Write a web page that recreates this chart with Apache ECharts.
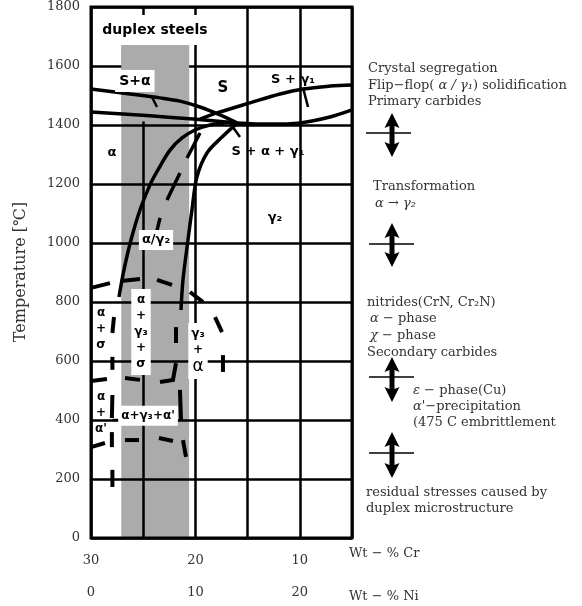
<!DOCTYPE html>
<html>
<head>
<meta charset="utf-8">
<script src="https://cdn.jsdelivr.net/npm/echarts@6/dist/echarts.min.js"></script>
<style>
  html, body { margin: 0; padding: 0; background: #fff; }
  #chart { width: 582px; height: 606px; }
</style>
</head>
<body>
<div id="chart"></div>
<script>
// Temperature axis (°C)
const tempMin = 0, tempMax = 1800, tempStep = 200;
// Composition axes (wt-%): the section runs at constant Fe, so Ni = 30 − Cr
const crMin = 5, crMax = 30, crStep = 5;
const crLabels = [30, 20, 10];
const niLabels = [0, 10, 20];

// Composition band of duplex steels: Cr limits and top temperature
const duplexBandCr = [27.1, 20.6];
const duplexBandTop = 1680;

// Phase boundaries, points as [wt-% Cr, °C]
const liquidusAlpha = [[30, 1522], [26.26, 1505], [23.39, 1492], [21.48, 1481], [19.56, 1461], [17.64, 1434], [16.02, 1407]];
const liquidusGamma = [[19.56, 1420], [17.93, 1441], [14.77, 1475], [11.90, 1505], [9.69, 1522], [7.11, 1532], [5, 1536]];
const solidusAlpha = [[30, 1444], [24.35, 1431], [20.23, 1420], [16.02, 1407]];
const solidusGamma = [[16.02, 1407], [12.85, 1403], [9.98, 1407], [7.11, 1427], [5, 1451]];
const ferriteSolvus = [[16.49, 1410], [18.60, 1400], [20.04, 1383], [21.28, 1356], [22.43, 1315], [23.58, 1248],
  [24.35, 1197], [25.31, 1112], [26.17, 1010], [26.84, 909], [27.32, 817]];
const austeniteSolvus = [[16.11, 1403], [17.45, 1359], [18.89, 1305], [19.85, 1224], [20.33, 1112], [20.80, 986],
  [21.19, 875], [21.38, 773]];

// Dashed boundaries, one polyline per dash
const gamma2Dashes = [
  [[19.56, 1373], [20.80, 1288]], [[21.48, 1237], [22.72, 1146]], [[23.39, 1085], [24.06, 986]]
];
const sigmaDashes = [
  [[30, 848], [28.18, 864]], [[27.13, 871], [25.31, 878]], [[23.68, 875], [22.24, 858]],
  [[20.52, 834], [19.27, 800]], [[18.12, 749], [17.45, 698]], [[17.36, 620], [17.36, 563]]
];
const alphaSigmaDashes = [
  [[27.8, 749], [27.95, 695]], [[27.95, 614], [27.95, 570]], [[27.95, 485], [28.0, 407]],
  [[28.0, 359], [28.0, 308]], [[27.95, 231], [27.95, 173]]
];
const gamma3Dashes = [
  [[30, 532], [28.47, 539]], [[26.74, 542], [25.31, 536]], [[23.39, 529], [22.15, 536], [21.86, 593]],
  [[21.86, 715], [21.86, 661]], [[21.48, 502], [21.38, 400]], [[21.19, 332], [20.90, 275]]
];
const alphaPrimeDashes = [
  [[30, 308], [28.66, 322]], [[26.74, 332], [25.40, 332]], [[23.49, 339], [22.15, 329]]
];
// Short leader strokes from region labels
const leaders = [
  [[24.16, 1495], [23.68, 1461]], [[9.69, 1526], [9.21, 1461]], [[16.69, 1407], [15.73, 1359]],
  [[27.95, 400], [27.22, 400]]
];

// Region labels and their anchor points [wt-% Cr, °C]
const phaseLabels = ['duplex steels', 'S+α', 'S', 'S + γ₁', 'α', 'S + α + γ₁', 'γ₂', 'α/γ₂',
  'α\n+\nγ₃\n+\nσ', 'α\n+\nσ', 'γ₃\n+\n{big|α}', 'α\n+\nα\'', 'α+γ₃+α\''];
const phaseLabelAt = [[23.87, 1722], [25.8, 1549], [17.36, 1526], [10.65, 1553], [27.99, 1305], [13.05, 1309],
  [12.38, 1085], [23.77, 1010], [25.21, 698], [29.04, 708], [19.75, 634], [29.04, 424], [24.54, 414]];

const serif = '"DejaVu Serif", "Liberation Serif", serif';
const sans = '"DejaVu Sans", "Liberation Sans", sans-serif';
const ink = '#000';
const textGrey = '#333';
const bandGrey = '#ababab';

function labelStyle(i) {
  const base = {
    show: true, position: 'inside', color: ink, opacity: 1, textBorderWidth: 0,
    fontFamily: sans, fontWeight: 'bold', fontSize: 13, lineHeight: 16, align: 'center', verticalAlign: 'middle',
    rich: { big: { fontSize: 17, fontWeight: 'normal', fontFamily: sans, color: ink, lineHeight: 18 } }
  };
  const boxed = { 0: [7, 8], 1: [3, 4], 7: [2, 3], 8: [3, 3], 10: [3, 3], 12: [2, 3] };
  if (boxed[i]) { base.backgroundColor = '#fff'; base.padding = boxed[i]; }
  if (i === 0 || i === 1) base.fontSize = 14;
  if (i === 2) base.fontSize = 15;
  if (i >= 8) base.fontSize = 12;
  return base;
}

function curve(data) {
  return {
    type: 'line', xAxisIndex: 0, yAxisIndex: 0, data, smooth: 0.35, symbol: 'none', silent: true, z: 5,
    lineStyle: { color: ink, width: 3.5 }
  };
}
// Dashes drawn one by one as polylines through the axis scales
function dashes(list, width) {
  return {
    type: 'custom', xAxisIndex: 0, yAxisIndex: 0, silent: true, z: 6,
    data: list.map((run, k) => [k]),
    renderItem: (params, api) => {
      const run = list[api.value(0)];
      return {
        type: 'polyline',
        shape: { points: run.map(p => api.coord(p)) },
        style: { stroke: ink, lineWidth: width || 4, fill: null, lineCap: 'butt' }
      };
    }
  };
}

// Double-headed arrow with a crossbar marking a temperature level
function arrow(cx, top, bottom, barY, barX1, barX2) {
  const hw = 7.5, hh = 15, sw = 2.5;
  return [
    { type: 'polygon', shape: { points: [[cx, top], [cx + hw, top + hh], [cx + sw, top + hh - 2], [cx + sw, bottom - hh + 2],
      [cx + hw, bottom - hh], [cx, bottom], [cx - hw, bottom - hh], [cx - sw, bottom - hh + 2], [cx - sw, top + hh - 2],
      [cx - hw, top + hh]] }, style: { fill: ink } },
    { type: 'line', shape: { x1: barX1, y1: barY, x2: barX2, y2: barY }, style: { stroke: ink, lineWidth: 1.5 } }
  ];
}
function note(x, y, text) {
  return {
    type: 'text', x, y,
    style: {
      text, fontFamily: serif, fontSize: 13, fill: textGrey, align: 'left', verticalAlign: 'middle',
      rich: { i: { fontFamily: serif, fontSize: 13, fontStyle: 'italic', fill: textGrey } }
    }
  };
}
// Band rectangle between two temperatures
function bandRect(api, tLow) {
  const a = api.coord([api.value(0), tLow]);
  const b = api.coord([api.value(1), api.value(2)]);
  return { type: 'rect', shape: { x: Math.min(a[0], b[0]), y: b[1], width: Math.abs(b[0] - a[0]), height: a[1] - b[1] },
    style: { fill: bandGrey } };
}

const chart = echarts.init(document.getElementById('chart'), null, { renderer: 'canvas' });
chart.setOption({
  animation: false,
  backgroundColor: '#fff',
  grid: { left: 91, right: 230, top: 7, bottom: 68, show: true, borderColor: ink, borderWidth: 3, z: 4,
    backgroundColor: 'transparent' },
  xAxis: [
    {
      type: 'value', min: crMin, max: crMax, interval: crStep, inverse: true, position: 'bottom', z: 3,
      axisLine: { show: false }, axisTick: { show: false },
      splitLine: { show: true, lineStyle: { color: ink, width: 2.5 } },
      axisLabel: { margin: 16, fontFamily: serif, fontSize: 13, color: textGrey,
        formatter: v => crLabels.includes(v) ? String(v) : '' }
    },
    {
      type: 'value', min: 30 - crMax, max: 30 - crMin, interval: crStep, position: 'bottom', offset: 32, z: 3,
      axisLine: { show: false }, axisTick: { show: false }, splitLine: { show: false },
      axisLabel: { margin: 16, fontFamily: serif, fontSize: 13, color: textGrey,
        formatter: v => niLabels.includes(v) ? String(v) : '' }
    }
  ],
  yAxis: {
    type: 'value', min: tempMin, max: tempMax, interval: tempStep, z: 3,
    axisLine: { show: false }, axisTick: { show: false },
    splitLine: { show: true, lineStyle: { color: ink, width: 2.5 } },
    axisLabel: { margin: 11, fontFamily: serif, fontSize: 13, color: textGrey, formatter: v => String(v) }
  },
  series: [
    {
      type: 'custom', xAxisIndex: 0, yAxisIndex: 0, z: 1, silent: true,
      data: [[duplexBandCr[0], duplexBandCr[1], duplexBandTop]],
      encode: { x: [0, 1], y: 2 },
      renderItem: (params, api) => bandRect(api, tempMin)
    },
    {
      // upper end of the band sits over the grid above 1600 °C
      type: 'custom', xAxisIndex: 0, yAxisIndex: 0, z: 3.5, silent: true,
      data: [[duplexBandCr[0], duplexBandCr[1], duplexBandTop]],
      encode: { x: [0, 1], y: 2 },
      renderItem: (params, api) => bandRect(api, tempMax - 2 * tempStep + 12)
    },
    curve(liquidusAlpha), curve(liquidusGamma), curve(solidusAlpha), curve(solidusGamma),
    curve(ferriteSolvus), curve(austeniteSolvus),
    dashes(gamma2Dashes, 3.5), dashes(sigmaDashes), dashes(alphaSigmaDashes), dashes(gamma3Dashes),
    dashes(alphaPrimeDashes), dashes(leaders, 2.5),
    {
      type: 'scatter', xAxisIndex: 0, yAxisIndex: 0, symbolSize: 0, silent: true, z: 10,
      itemStyle: { opacity: 1 },
      data: phaseLabels.map((t, i) => ({ value: phaseLabelAt[i], label: Object.assign(labelStyle(i), { formatter: t }) }))
    }
  ],
  graphic: [
    { type: 'text', x: 21, y: 272, rotation: Math.PI / 2,
      style: { text: 'Temperature [℃]', fontFamily: serif, fontSize: 16, fill: textGrey, align: 'center', verticalAlign: 'middle' } },
    note(368, 69, 'Crystal segregation'),
    note(368, 86, 'Flip−flop( {i|α / γ₁}) solidification'),
    note(368, 102, 'Primary carbides'),
    ...arrow(392, 113, 157, 133, 366, 411),
    note(373, 187, 'Transformation'),
    note(375, 204, '{i|α → γ₂}'),
    ...arrow(392, 223, 267, 244, 369, 414),
    note(367, 303, 'nitrides(CrN, Cr₂N)'),
    note(370, 319, '{i|α} − phase'),
    note(370, 336, '{i|χ} − phase'),
    note(367, 353, 'Secondary carbides'),
    ...arrow(392, 357, 402, 377, 369, 414),
    note(413, 391, '{i|ε} − phase(Cu)'),
    note(413, 407, '{i|α}\'−precipitation'),
    note(413, 423, '(475 C embrittlement'),
    ...arrow(392, 432, 478, 453, 369, 414),
    note(366, 493, 'residual stresses caused by'),
    note(366, 509, 'duplex microstructure'),
    note(349, 554, 'Wt − % Cr'),
    note(349, 597, 'Wt − % Ni')
  ]
});
</script>
</body>
</html>
